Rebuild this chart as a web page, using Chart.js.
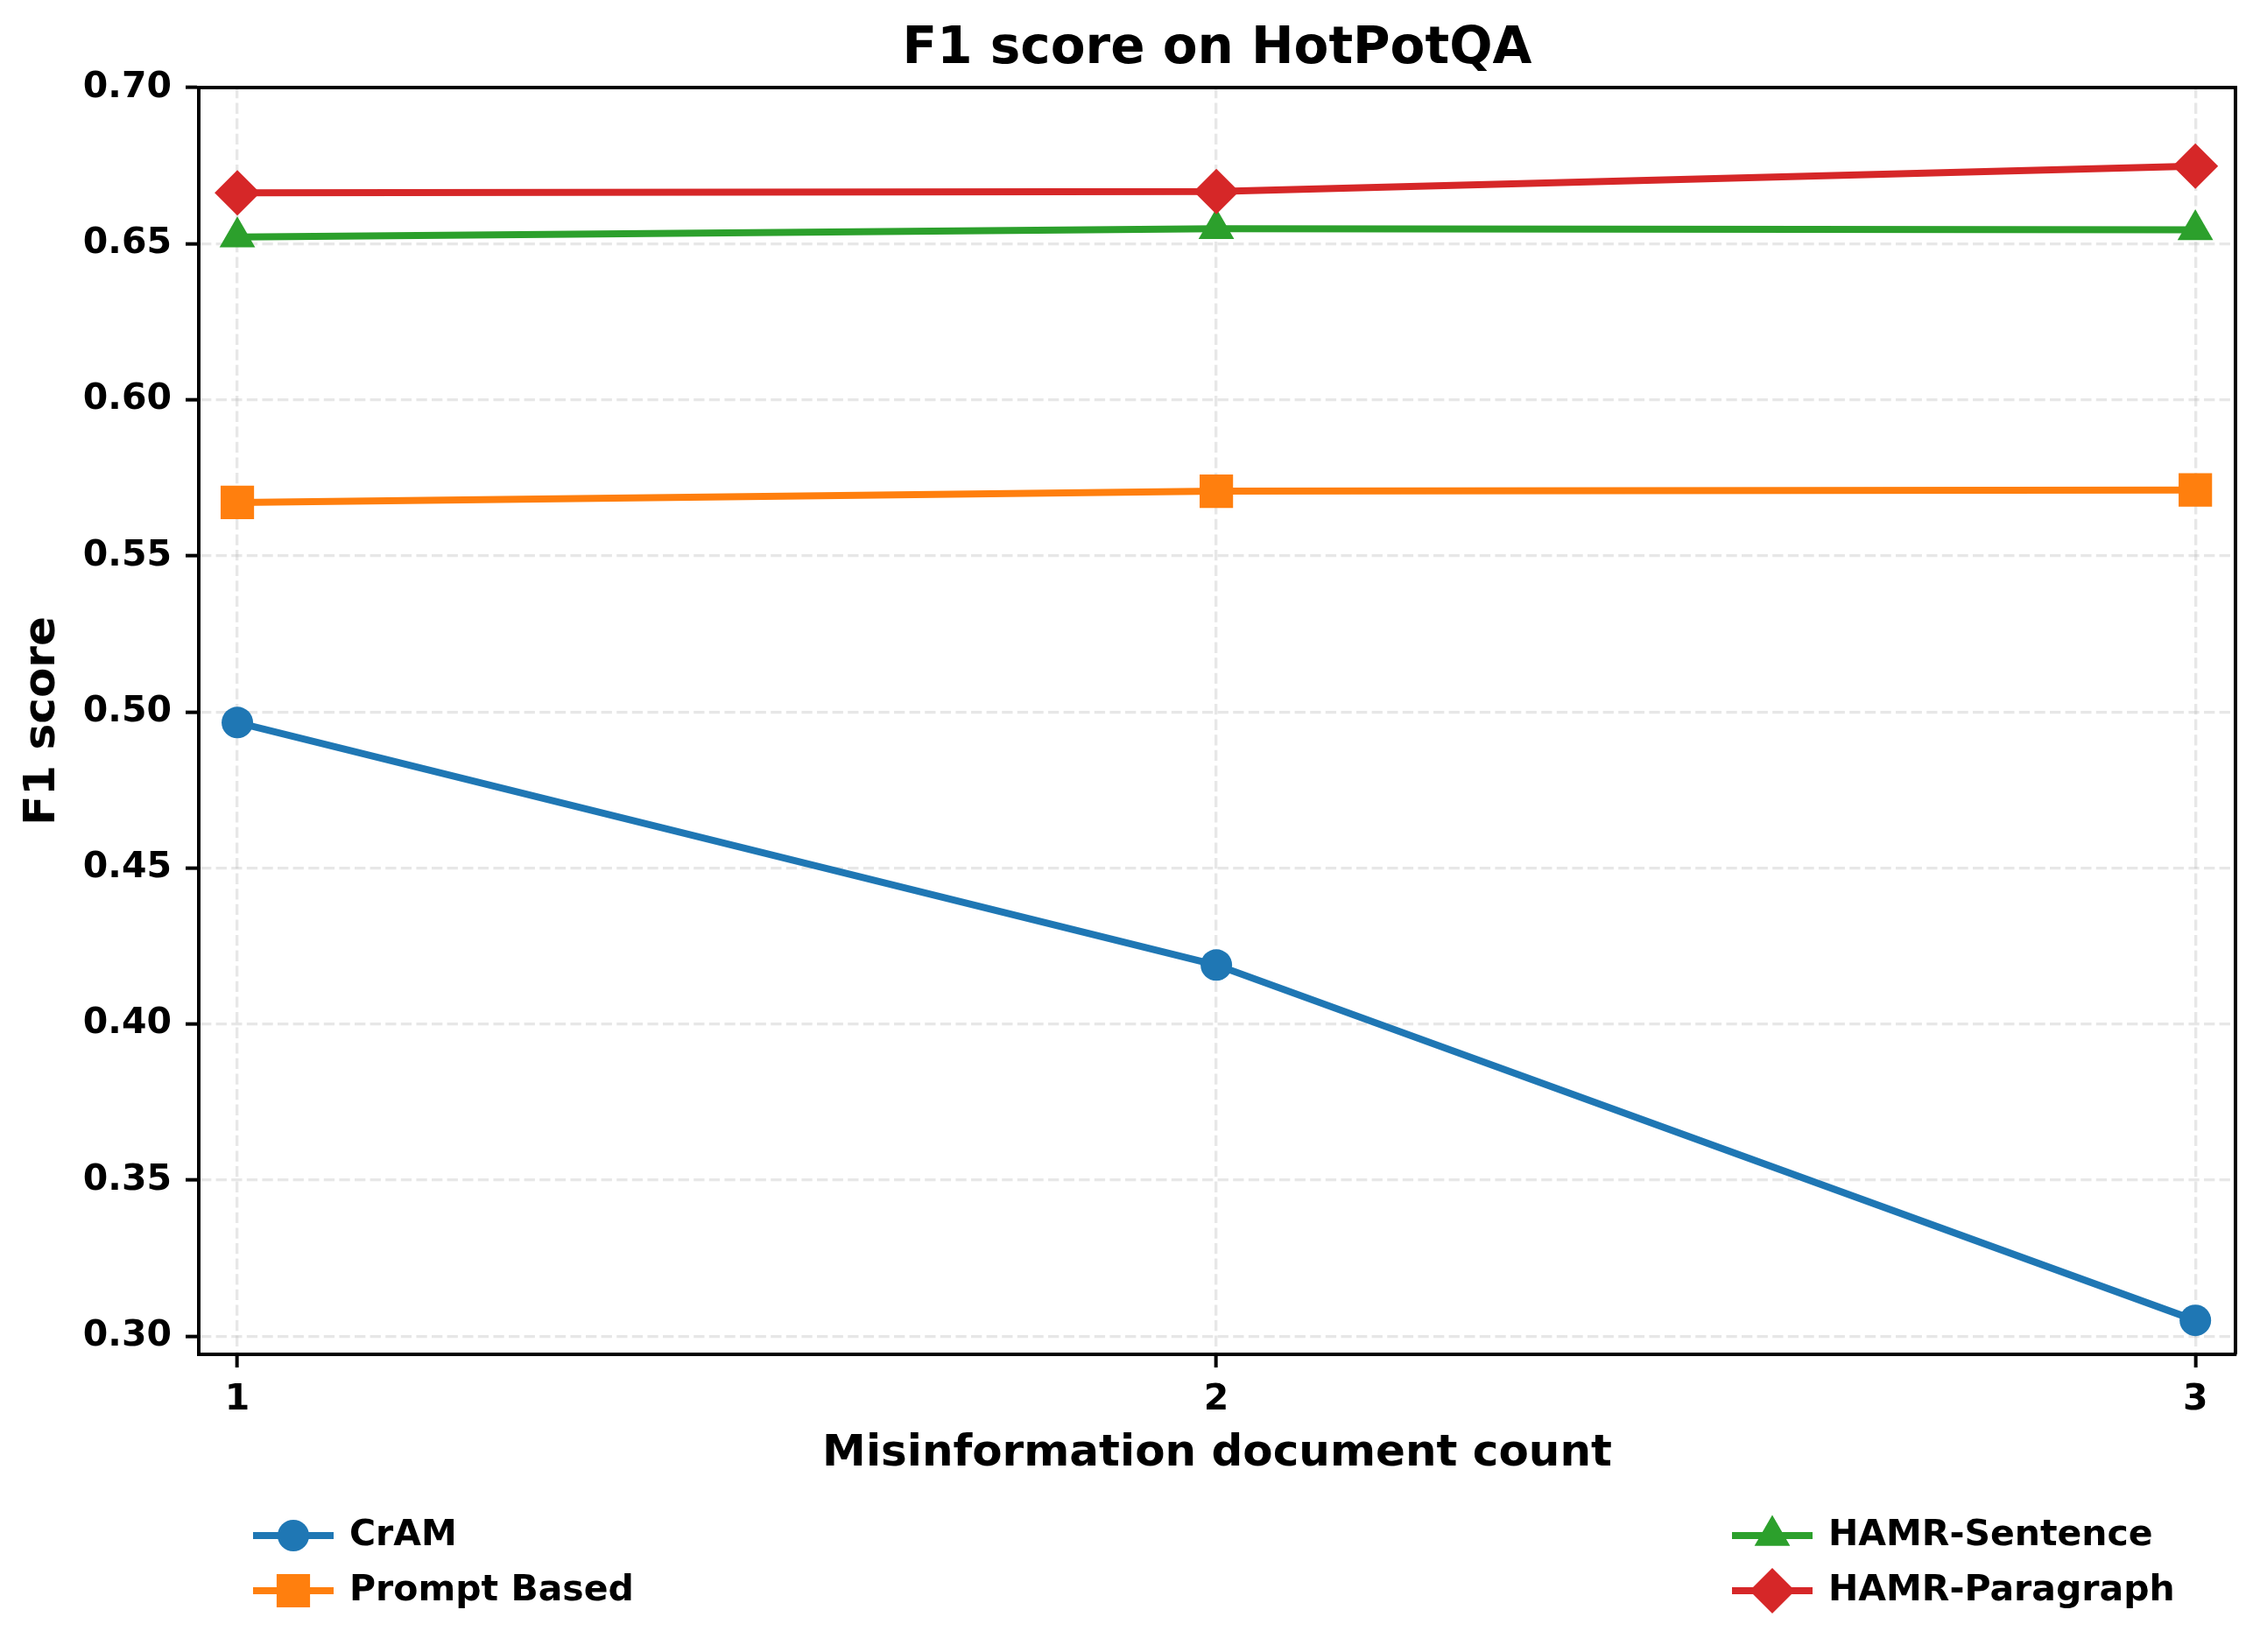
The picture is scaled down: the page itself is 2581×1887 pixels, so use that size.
<!DOCTYPE html>
<html>
<head>
<meta charset="utf-8">
<title>F1 score on HotPotQA</title>
<script src="https://cdn.jsdelivr.net/npm/chart.js@4.4.1/dist/chart.umd.min.js"></script>
<style>
  html, body { margin: 0; padding: 0; background: #fff; }
  canvas { display: block; }
</style>
</head>
<body>
<canvas id="f1-chart" width="2581" height="1887" style="width:2581px;height:1887px"></canvas>
<script>
// values
const docCounts = [1, 2, 3];
const seriesNames = ['CrAM', 'Prompt Based', 'HAMR-Sentence', 'HAMR-Paragraph'];
const cram = [0.4966, 0.4189, 0.3051];
const promptBased = [0.5671, 0.5707, 0.5711];
const hamrSentence = [0.6521, 0.6548, 0.6544];
const hamrParagraph = [0.6663, 0.6667, 0.6748];
const xTicks = [1, 2, 3];
const yTicks = [0.30, 0.35, 0.40, 0.45, 0.50, 0.55, 0.60, 0.65, 0.70];

const FONT = "'DejaVu Sans', 'Liberation Sans', sans-serif";
const colors = ['#1f77b4', '#ff7f0e', '#2ca02c', '#d62728'];
const styles = ['circle', 'rect', 'triangle', 'rectRot'];
const radii = [18, 27, 23.5, 26];
const allSeries = [cram, promptBased, hamrSentence, hamrParagraph];

const datasets = allSeries.map((vals, i) => ({
    label: seriesNames[i],
    data: docCounts.map((x, j) => ({ x: x, y: vals[j] })),
    borderColor: colors[i],
    backgroundColor: colors[i],
    borderWidth: 8,
    tension: 0,
    pointStyle: styles[i],
    pointRadius: radii[i],
    pointHoverRadius: radii[i],
    pointBorderWidth: 0,
    pointBackgroundColor: colors[i],
    order: allSeries.length - 1 - i,
    clip: false
}));

// matplotlib-like legend: 2 columns, filled column by column
const legendPlugin = {
    id: 'colLegend',
    afterDraw(chart) {
        const ctx = chart.ctx;
        const colX = [289, 1978];
        const rowY = [1754, 1817];
        const lineLen = 92;
        chart.data.datasets.forEach((ds, i) => {
            const x = colX[Math.floor(i / 2)];
            const y = rowY[i % 2];
            ctx.save();
            ctx.strokeStyle = ds.borderColor;
            ctx.lineWidth = ds.borderWidth;
            ctx.beginPath();
            ctx.moveTo(x, y);
            ctx.lineTo(x + lineLen, y);
            ctx.stroke();
            ctx.fillStyle = ds.pointBackgroundColor;
            Chart.helpers.drawPoint(ctx, {
                pointStyle: ds.pointStyle, radius: ds.pointRadius, rotation: 0, borderWidth: 0
            }, x + lineLen / 2, y);
            ctx.fillStyle = '#000';
            ctx.font = 'bold 41px ' + FONT;
            ctx.textAlign = 'left';
            ctx.textBaseline = 'middle';
            ctx.fillText(ds.label, x + 110, y);
            ctx.restore();
        });
    }
};

// top and right spines
const framePlugin = {
    id: 'frame',
    afterDraw(chart) {
        const { left, right, top, bottom } = chart.chartArea;
        const ctx = chart.ctx;
        ctx.save();
        ctx.strokeStyle = '#000';
        ctx.lineWidth = 4;
        ctx.beginPath();
        ctx.moveTo(left, top);
        ctx.lineTo(right, top);
        ctx.lineTo(right, bottom);
        ctx.stroke();
        ctx.restore();
    }
};

const gridCommon = {
    color: 'rgba(176,176,176,0.3)',
    lineWidth: 3.3,
    drawTicks: true,
    tickLength: 15,
    tickColor: '#000',
    tickWidth: 4,
    tickBorderDash: []
};

new Chart(document.getElementById('f1-chart'), {
    type: 'line',
    data: { datasets: datasets },
    plugins: [legendPlugin, framePlugin],
    options: {
        responsive: false,
        animation: false,
        devicePixelRatio: 1,
        layout: { padding: { left: 0, right: 28, top: 0, bottom: 194 } },
        plugins: {
            legend: { display: false },
            tooltip: { enabled: false },
            title: {
                display: true,
                text: 'F1 score on HotPotQA',
                fullSize: false,
                color: '#000',
                font: { family: FONT, size: 58, weight: 'bold', lineHeight: 1.2 },
                padding: { top: 22, bottom: 8.4 }
            }
        },
        scales: {
            x: {
                type: 'linear',
                min: 0.9606,
                max: 3.041,
                afterBuildTicks(scale) { scale.ticks = xTicks.map(v => ({ value: v })); },
                afterFit(scale) { scale.height = 146; },
                grid: gridCommon,
                border: { display: true, color: '#000', width: 4, dash: [12.3, 5.3] },
                ticks: {
                    color: '#000',
                    padding: 13,
                    maxRotation: 0,
                    font: { family: FONT, size: 41, weight: 'bold' },
                    callback: v => String(v)
                },
                title: {
                    display: true,
                    text: 'Misinformation document count',
                    color: '#000',
                    font: { family: FONT, size: 50, weight: 'bold', lineHeight: 1.2 },
                    padding: { top: 0, bottom: 2 }
                }
            },
            y: {
                type: 'linear',
                min: 0.2942,
                max: 0.70,
                afterBuildTicks(scale) { scale.ticks = yTicks.map(v => ({ value: v })); },
                afterFit(scale) { scale.width = 227; },
                grid: gridCommon,
                border: { display: true, color: '#000', width: 4, dash: [12.3, 5.3] },
                ticks: {
                    color: '#000',
                    padding: 16,
                    font: { family: FONT, size: 41, weight: 'bold' },
                    callback: v => v.toFixed(2)
                },
                title: {
                    display: true,
                    text: 'F1 score',
                    color: '#000',
                    font: { family: FONT, size: 50, weight: 'bold', lineHeight: 1.2 },
                    padding: { top: 19, bottom: 0 }
                }
            }
        }
    }
});
</script>
</body>
</html>
